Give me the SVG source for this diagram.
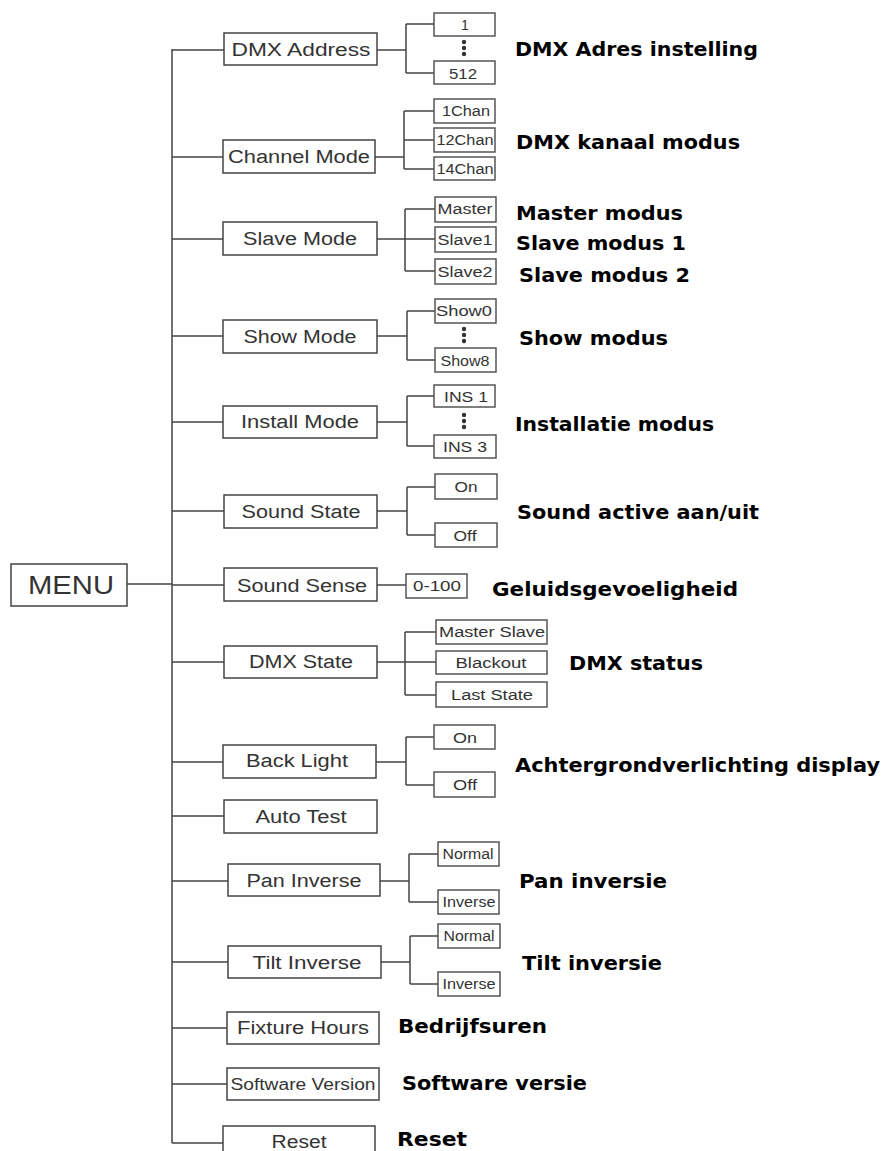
<svg xmlns="http://www.w3.org/2000/svg" width="885" height="1151" viewBox="0 0 885 1151">
<style>
.b{fill:#fff;stroke:#444;stroke-width:1.5}
.o{fill:#fff;stroke:#555;stroke-width:1.5}
.t{font-family:"Liberation Sans",Arial,sans-serif;font-size:18px;fill:#333;text-anchor:middle}
.s{font-family:"Liberation Sans",Arial,sans-serif;font-size:14px;fill:#333;text-anchor:middle}
.l{font-family:"DejaVu Sans","Liberation Sans",sans-serif;font-weight:bold;font-size:19px;fill:#000}
.c{fill:none;stroke:#444;stroke-width:1.5}
.d{fill:#333}
</style>
<rect width="885" height="1151" fill="#fff"/>
<g id="connectors" class="c">
<path d="M172 49V1143M127 584H172"/>
<path d="M172 50H224M172 157H223M172 239H223M172 336H223M172 422H223M172 511H224M172 585H224M172 662H224M172 762H223M172 816H224M172 881H228M172 962H228M172 1028H227M172 1084H227M172 1143H223"/>
<path d="M377 50H406M406 24V73M406 24H434M406 73H434"/>
<path d="M375 157H404M404 111V169M404 111H434M404 140H434M404 169H434"/>
<path d="M377 239H405M405 209V271M405 209H435M405 239H435M405 271H435"/>
<path d="M377 336H407M407 311V360M407 311H435M407 360H435"/>
<path d="M377 422H407M407 396V446M407 396H434M407 446H434"/>
<path d="M377 511H407M407 487V535M407 487H435M407 535H435"/>
<path d="M377 585H406"/>
<path d="M377 662H405M405 632V695M405 632H436M405 662H436M405 695H436"/>
<path d="M376 762H406M406 737V785M406 737H434M406 785H434"/>
<path d="M380 881H409M409 854V902M409 854H438M409 902H438"/>
<path d="M381 962H410M410 936V984M410 936H438M410 984H438"/>
</g>
<g id="menu"><rect class="b" x="11" y="564" width="116" height="42"/><text x="71" y="594" class="t" style="font-size:26px" textLength="86" lengthAdjust="spacingAndGlyphs">MENU</text></g>
<g id="dmx-address">
<rect class="b" x="224" y="33" width="153" height="32"/><text class="t" x="301" y="56" textLength="139" lengthAdjust="spacingAndGlyphs">DMX  Address</text>
<rect class="o" x="434" y="13" width="61" height="23"/><text class="s" x="465" y="30">1</text>
<circle class="d" cx="464" cy="42" r="2.2"/><circle class="d" cx="464" cy="48" r="2.2"/><circle class="d" cx="464" cy="54" r="2.2"/>
<rect class="o" x="434" y="61" width="61" height="23"/><text class="s" x="463" y="79" textLength="28" lengthAdjust="spacingAndGlyphs">512</text>
<text class="l" x="515" y="56" textLength="243" lengthAdjust="spacingAndGlyphs">DMX Adres instelling</text>
</g>
<g id="channel-mode">
<rect class="b" x="223" y="140" width="152" height="33"/><text class="t" x="299" y="163" textLength="142" lengthAdjust="spacingAndGlyphs">Channel Mode</text>
<rect class="o" x="434" y="99" width="61" height="24"/><text class="s" x="466" y="116" textLength="48" lengthAdjust="spacingAndGlyphs">1Chan</text>
<rect class="o" x="434" y="128" width="61" height="24"/><text class="s" x="465" y="145" textLength="57" lengthAdjust="spacingAndGlyphs">12Chan</text>
<rect class="o" x="434" y="157" width="61" height="23"/><text class="s" x="465" y="174" textLength="57" lengthAdjust="spacingAndGlyphs">14Chan</text>
<text class="l" x="516" y="149" textLength="224" lengthAdjust="spacingAndGlyphs">DMX kanaal modus</text>
</g>
<g id="slave-mode">
<rect class="b" x="223" y="222" width="154" height="33"/><text class="t" x="300" y="245" textLength="114" lengthAdjust="spacingAndGlyphs">Slave Mode</text>
<rect class="o" x="435" y="197" width="61" height="25"/><text class="s" x="465" y="214" textLength="55" lengthAdjust="spacingAndGlyphs">Master</text>
<rect class="o" x="435" y="227" width="61" height="25"/><text class="s" x="465" y="245" textLength="55" lengthAdjust="spacingAndGlyphs">Slave1</text>
<rect class="o" x="435" y="259" width="61" height="25"/><text class="s" x="465" y="277" textLength="55" lengthAdjust="spacingAndGlyphs">Slave2</text>
<text class="l" x="516" y="220" textLength="167" lengthAdjust="spacingAndGlyphs">Master modus</text>
<text class="l" x="516" y="250" textLength="170" lengthAdjust="spacingAndGlyphs">Slave modus 1</text>
<text class="l" x="519" y="282" textLength="171" lengthAdjust="spacingAndGlyphs">Slave modus 2</text>
</g>
<g id="show-mode">
<rect class="b" x="223" y="320" width="154" height="33"/><text class="t" x="300" y="343" textLength="113" lengthAdjust="spacingAndGlyphs">Show Mode</text>
<rect class="o" x="435" y="299" width="61" height="24"/><text class="s" x="464" y="316" textLength="56" lengthAdjust="spacingAndGlyphs">Show0</text>
<circle class="d" cx="464" cy="329" r="2.2"/><circle class="d" cx="464" cy="335" r="2.2"/><circle class="d" cx="464" cy="341" r="2.2"/>
<rect class="o" x="435" y="348" width="61" height="24"/><text class="s" x="465" y="366" textLength="49" lengthAdjust="spacingAndGlyphs">Show8</text>
<text class="l" x="519" y="345" textLength="149" lengthAdjust="spacingAndGlyphs">Show modus</text>
</g>
<g id="install-mode">
<rect class="b" x="223" y="406" width="154" height="32"/><text class="t" x="300" y="428" textLength="118" lengthAdjust="spacingAndGlyphs">Install Mode</text>
<rect class="o" x="434" y="385" width="61" height="22"/><text class="s" x="466" y="402" textLength="44" lengthAdjust="spacingAndGlyphs">INS 1</text>
<circle class="d" cx="464" cy="415" r="2.2"/><circle class="d" cx="464" cy="421" r="2.2"/><circle class="d" cx="464" cy="427" r="2.2"/>
<rect class="o" x="434" y="435" width="62" height="23"/><text class="s" x="465" y="452" textLength="44" lengthAdjust="spacingAndGlyphs">INS 3</text>
<text class="l" x="515" y="431" textLength="199" lengthAdjust="spacingAndGlyphs">Installatie modus</text>
</g>
<g id="sound-state">
<rect class="b" x="224" y="495" width="153" height="33"/><text class="t" x="301" y="518" textLength="119" lengthAdjust="spacingAndGlyphs">Sound State</text>
<rect class="o" x="435" y="474" width="62" height="25"/><text class="s" x="466" y="492" textLength="23" lengthAdjust="spacingAndGlyphs">On</text>
<rect class="o" x="435" y="523" width="62" height="24"/><text class="s" x="465" y="541" textLength="23" lengthAdjust="spacingAndGlyphs">Off</text>
<text class="l" x="517" y="519" textLength="242" lengthAdjust="spacingAndGlyphs">Sound active aan/uit</text>
</g>
<g id="sound-sense">
<rect class="b" x="224" y="568" width="153" height="33"/><text class="t" x="302" y="592" textLength="130" lengthAdjust="spacingAndGlyphs">Sound Sense</text>
<rect class="o" x="406" y="574" width="61" height="24"/><text class="s" x="437" y="591" textLength="48" lengthAdjust="spacingAndGlyphs">0-100</text>
<text class="l" x="492" y="596" textLength="246" lengthAdjust="spacingAndGlyphs">Geluidsgevoeligheid</text>
</g>
<g id="dmx-state">
<rect class="b" x="224" y="646" width="153" height="32"/><text class="t" x="301" y="668" textLength="104" lengthAdjust="spacingAndGlyphs">DMX State</text>
<rect class="o" x="436" y="620" width="111" height="24"/><text class="s" x="492" y="637" textLength="106" lengthAdjust="spacingAndGlyphs">Master Slave</text>
<rect class="o" x="436" y="651" width="111" height="23"/><text class="s" x="491" y="668" textLength="71" lengthAdjust="spacingAndGlyphs">Blackout</text>
<rect class="o" x="436" y="682" width="111" height="25"/><text class="s" x="492" y="700" textLength="82" lengthAdjust="spacingAndGlyphs">Last State</text>
<text class="l" x="569" y="670" textLength="134" lengthAdjust="spacingAndGlyphs">DMX status</text>
</g>
<g id="back-light">
<rect class="b" x="223" y="745" width="153" height="33"/><text class="t" x="297" y="767" textLength="102" lengthAdjust="spacingAndGlyphs">Back Light</text>
<rect class="o" x="434" y="725" width="61" height="24"/><text class="s" x="465" y="743" textLength="24" lengthAdjust="spacingAndGlyphs">On</text>
<rect class="o" x="434" y="772" width="61" height="25"/><text class="s" x="465" y="790" textLength="24" lengthAdjust="spacingAndGlyphs">Off</text>
<text class="l" x="515" y="772" textLength="365" lengthAdjust="spacingAndGlyphs">Achtergrondverlichting display</text>
</g>
<g id="auto-test">
<rect class="b" x="224" y="800" width="153" height="33"/><text class="t" x="301" y="823" textLength="91" lengthAdjust="spacingAndGlyphs">Auto Test</text>
</g>
<g id="pan-inverse">
<rect class="b" x="228" y="864" width="152" height="32"/><text class="t" x="304" y="887" textLength="115" lengthAdjust="spacingAndGlyphs">Pan Inverse</text>
<rect class="o" x="438" y="842" width="61" height="24"/><text class="s" x="468" y="859" textLength="51" lengthAdjust="spacingAndGlyphs">Normal</text>
<rect class="o" x="438" y="890" width="61" height="24"/><text class="s" x="469" y="907" textLength="53" lengthAdjust="spacingAndGlyphs">Inverse</text>
<text class="l" x="519" y="888" textLength="148" lengthAdjust="spacingAndGlyphs">Pan inversie</text>
</g>
<g id="tilt-inverse">
<rect class="b" x="228" y="946" width="153" height="32"/><text class="t" x="307" y="969" textLength="109" lengthAdjust="spacingAndGlyphs">Tilt Inverse</text>
<rect class="o" x="438" y="924" width="62" height="24"/><text class="s" x="469" y="941" textLength="51" lengthAdjust="spacingAndGlyphs">Normal</text>
<rect class="o" x="438" y="972" width="62" height="24"/><text class="s" x="469" y="989" textLength="53" lengthAdjust="spacingAndGlyphs">Inverse</text>
<text class="l" x="522" y="970" textLength="140" lengthAdjust="spacingAndGlyphs">Tilt inversie</text>
</g>
<g id="fixture-hours">
<rect class="b" x="227" y="1012" width="152" height="32"/><text class="t" x="303" y="1034" textLength="132" lengthAdjust="spacingAndGlyphs">Fixture Hours</text>
<text class="l" x="398" y="1033" textLength="149" lengthAdjust="spacingAndGlyphs">Bedrijfsuren</text>
</g>
<g id="software-version">
<rect class="b" x="227" y="1068" width="152" height="32"/><text class="t" x="303" y="1090" style="font-size:16px" textLength="145" lengthAdjust="spacingAndGlyphs">Software Version</text>
<text class="l" x="402" y="1090" textLength="185" lengthAdjust="spacingAndGlyphs">Software versie</text>
</g>
<g id="reset">
<rect class="b" x="223" y="1126" width="152" height="40"/><text class="t" x="299" y="1148" textLength="55" lengthAdjust="spacingAndGlyphs">Reset</text>
<text class="l" x="397" y="1146" textLength="70" lengthAdjust="spacingAndGlyphs">Reset</text>
</g>
</svg>
